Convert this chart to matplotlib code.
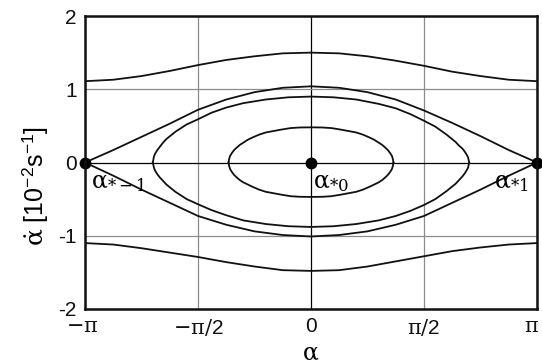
import numpy as np
import matplotlib
matplotlib.use("Agg")
import matplotlib.pyplot as plt
from matplotlib.transforms import ScaledTranslation

plt.rcParams['font.family'] = ['Liberation Sans', 'DejaVu Sans']
plt.rcParams['mathtext.fontset'] = 'custom'
plt.rcParams['mathtext.rm'] = 'DejaVu Serif'
plt.rcParams['mathtext.it'] = 'DejaVu Serif:italic'
plt.rcParams['mathtext.sf'] = 'Liberation Sans'

PI = np.pi

# ---- data (alpha in units of pi, alpha-dot in 1e-2 1/s) ----
rot_x = [-1, -0.875, -0.75, -0.625, -0.5, -0.375, -0.25, -0.125, 0,
         0.125, 0.25, 0.375, 0.5, 0.625, 0.75, 0.875, 1]
rot_up = [1.11, 1.13, 1.18, 1.25, 1.33, 1.40, 1.45, 1.49, 1.50,
          1.49, 1.45, 1.39, 1.32, 1.24, 1.18, 1.13, 1.11]
rot_dn = [-1.10, -1.12, -1.17, -1.23, -1.29, -1.36, -1.42, -1.47, -1.48,
          -1.47, -1.42, -1.35, -1.28, -1.21, -1.16, -1.12, -1.10]

sep_up = [0, 0.17, 0.35, 0.53, 0.72, 0.86, 0.96, 1.02, 1.04,
          1.02, 0.96, 0.86, 0.71, 0.54, 0.36, 0.17, 0]
sep_dn = [0, -0.18, -0.37, -0.55, -0.73, -0.85, -0.94, -0.99, -1.01,
          -0.99, -0.94, -0.85, -0.73, -0.55, -0.37, -0.18, 0]

mid_x = [-0.70, -0.695, -0.69, -0.68, -0.67, -0.655, -0.64, -0.62, -0.60, -0.55, -0.50, -0.44,
         -0.375, -0.30, -0.20, -0.10, 0,
         0.10, 0.20, 0.30, 0.375, 0.44, 0.50, 0.55, 0.60, 0.62, 0.64, 0.655, 0.67, 0.68, 0.69,
         0.695, 0.70]
mid_up = [0, 0.08, 0.12, 0.17, 0.21, 0.27, 0.32, 0.37, 0.42, 0.52, 0.59, 0.68,
          0.75, 0.81, 0.86, 0.89, 0.90,
          0.89, 0.86, 0.80, 0.74, 0.66, 0.57, 0.49, 0.38, 0.33, 0.28, 0.23, 0.19, 0.15, 0.10,
          0.07, 0]
mid_dn = [0, -0.07, -0.11, -0.16, -0.20, -0.25, -0.30, -0.35, -0.40, -0.50, -0.57, -0.65,
          -0.72, -0.79, -0.84, -0.87, -0.88,
          -0.87, -0.84, -0.79, -0.73, -0.66, -0.58, -0.50, -0.39, -0.34, -0.29, -0.24, -0.19,
          -0.15, -0.10, -0.07, 0]

in_x = [-0.365, -0.362, -0.358, -0.35, -0.34, -0.33, -0.315, -0.30, -0.28, -0.26, -0.23, -0.20,
        -0.165, -0.13, -0.09, -0.05, 0,
        0.05, 0.09, 0.13, 0.165, 0.20, 0.23, 0.26, 0.28, 0.30, 0.315, 0.33, 0.34, 0.35, 0.358,
        0.362, 0.365]
in_up = [0, 0.05, 0.09, 0.13, 0.17, 0.20, 0.24, 0.27, 0.31, 0.34, 0.38, 0.41,
         0.43, 0.45, 0.47, 0.478, 0.48,
         0.478, 0.47, 0.45, 0.43, 0.41, 0.38, 0.34, 0.31, 0.27, 0.24, 0.20, 0.17, 0.13, 0.09,
         0.05, 0]
in_dn = [0, -0.05, -0.09, -0.13, -0.17, -0.20, -0.24, -0.27, -0.30, -0.33, -0.37, -0.40,
         -0.42, -0.44, -0.46, -0.468, -0.47,
         -0.468, -0.46, -0.44, -0.42, -0.40, -0.37, -0.33, -0.30, -0.27, -0.24, -0.20, -0.17,
         -0.13, -0.09, -0.05, 0]

eq_x = [-1, 0, 1]
eq_y = [0, 0, 0]
eq_labels = [r'$\mathrm{\alpha}_{*-1}$', r'$\mathrm{\alpha}_{*0}$', r'$\mathrm{\alpha}_{*1}$']

xticks = [-1, -0.5, 0, 0.5, 1]
xticklabels = [r'$-\mathrm{\pi}$', r'$-\mathrm{\pi}/\mathsf{2}$', '0',
               r'$\mathrm{\pi}/\mathsf{2}$', r'$\mathrm{\pi}$']
yticks = [-2, -1, 0, 1, 2]
yticklabels = ['-2', '-1', '0', '1', '2']

# ---- figure ----
W, H = 542, 364
fig = plt.figure(figsize=(W / 100, H / 100), dpi=100)
ax = fig.add_axes([85 / W, 1 - 309 / H, (537 - 85) / W, (309 - 16) / H])
ax.set_xlim(-PI, PI)
ax.set_ylim(-2, 2)

grid_gray = '#8c8c8c'
for xv in xticks:
    ax.axvline(xv * PI, color='black' if xv == 0 else grid_gray, lw=0.9, zorder=1)
for yv in yticks:
    ax.axhline(yv, color='black' if yv == 0 else grid_gray, lw=0.9, zorder=1)

lc = '#111111'
lw = 1.3
rx = np.array(rot_x) * PI
ax.plot(rx, rot_up, color=lc, lw=lw, zorder=3)
ax.plot(rx, rot_dn, color=lc, lw=lw, zorder=3)
ax.plot(rx, sep_up, color=lc, lw=lw, zorder=3)
ax.plot(rx, sep_dn, color=lc, lw=lw, zorder=3)
mx = np.array(mid_x) * PI
ax.plot(mx, mid_up, color=lc, lw=lw, zorder=3)
ax.plot(mx, mid_dn, color=lc, lw=lw, zorder=3)
ix = np.array(in_x) * PI
ax.plot(ix, in_up, color=lc, lw=lw, zorder=3)
ax.plot(ix, in_dn, color=lc, lw=lw, zorder=3)

ax.plot(np.array(eq_x) * PI, eq_y, 'o', color='black', ms=7.5, clip_on=False, zorder=6)

# equilibrium labels
ax.text(-0.972 * PI, -0.13, eq_labels[0], fontsize=17, ha='left', va='top', zorder=5)
ax.text(0.01 * PI, -0.13, eq_labels[1], fontsize=17, ha='left', va='top', zorder=5)
ax.text(0.81 * PI, -0.13, eq_labels[2], fontsize=17, ha='left', va='top', zorder=5)

ax.set_xticks(np.array(xticks) * PI)
ax.set_xticklabels(xticklabels)
ax.set_yticks(yticks)
ax.set_yticklabels(yticklabels)
ax.tick_params(length=0, labelsize=15, pad=6, colors='#111111')
# keep the outermost labels inside the canvas
xt = ax.get_xticklabels()
xt[-1].set_transform(xt[-1].get_transform() + ScaledTranslation(-6 / 100, 0, fig.dpi_scale_trans))
xt[0].set_transform(xt[0].get_transform() + ScaledTranslation(-3 / 100, 0, fig.dpi_scale_trans))

for s in ax.spines.values():
    s.set_linewidth(1.8)
    s.set_color('#111111')
    s.set_zorder(7)

fig.text(311 / W, 1 - 353 / H, r'$\mathrm{\alpha}$', fontsize=17, ha='center', va='center')
fig.text(36 / W, 1 - 186 / H,
         r'$\dot{\mathrm{\alpha}}$ [10$^{\mathsf{-2}}$s$^{\mathsf{-1}}$]',
         fontsize=18, rotation=90, ha='center', va='center')

fig.savefig('out.png', dpi=100)
